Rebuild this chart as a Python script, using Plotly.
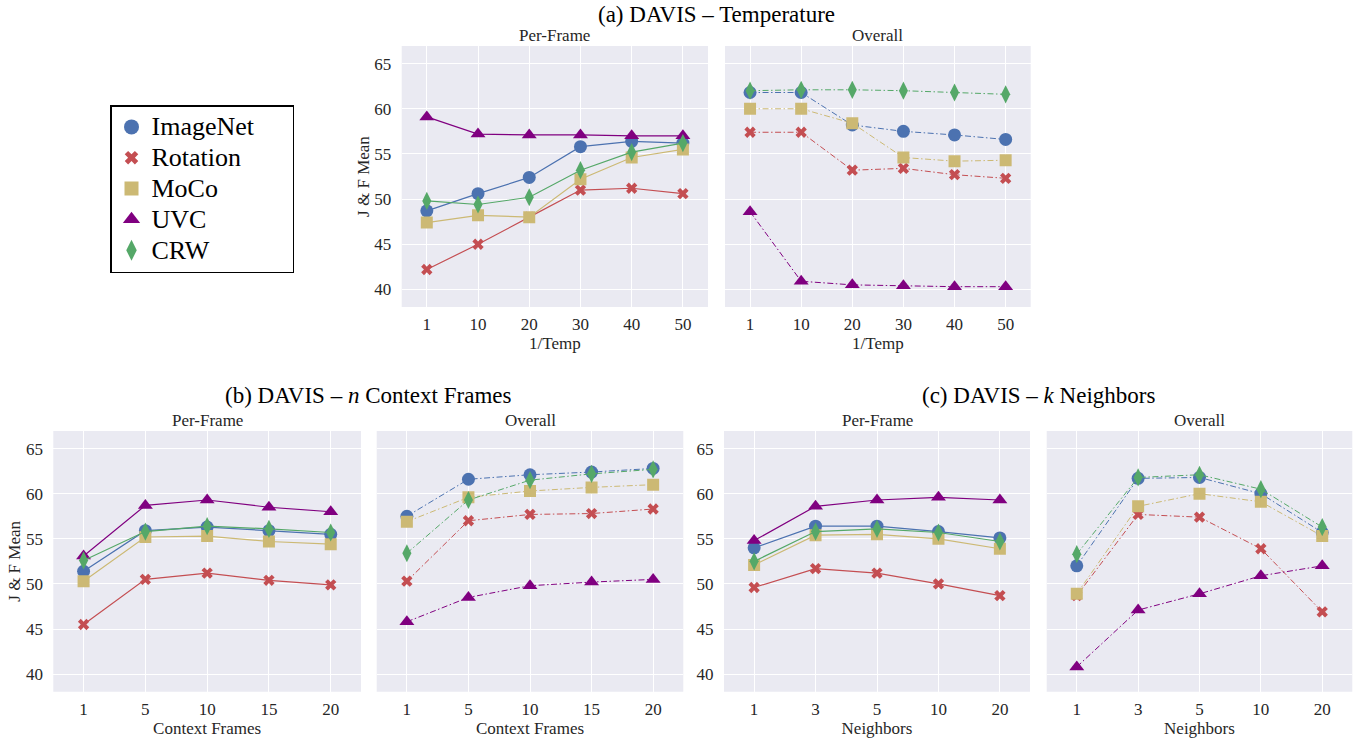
import plotly.graph_objects as go

# ---------------- data ----------------
methods = ["ImageNet", "Rotation", "MoCo", "UVC", "CRW"]

temp_labels = ["1", "10", "20", "30", "40", "50"]
ctx_labels = ["1", "5", "10", "15", "20"]
nbr_labels = ["1", "3", "5", "10", "20"]

temp_perframe = {
    "ImageNet": [48.7, 50.6, 52.4, 55.8, 56.4, 56.2],
    "Rotation": [42.2, 45.0, 48.0, 51.0, 51.2, 50.6],
    "MoCo":     [47.4, 48.2, 48.0, 52.2, 54.6, 55.5],
    "UVC":      [59.1, 57.2, 57.1, 57.1, 57.0, 57.0],
    "CRW":      [49.8, 49.4, 50.2, 53.2, 55.2, 56.2],
}
temp_overall = {
    "ImageNet": [61.8, 61.8, 58.2, 57.5, 57.1, 56.6],
    "Rotation": [57.4, 57.4, 53.2, 53.4, 52.7, 52.3],
    "MoCo":     [60.0, 60.0, 58.4, 54.6, 54.2, 54.3],
    "UVC":      [48.6, 40.9, 40.5, 40.4, 40.3, 40.3],
    "CRW":      [62.0, 62.1, 62.1, 62.0, 61.8, 61.6],
}
ctx_perframe = {
    "ImageNet": [51.4, 55.9, 56.3, 55.9, 55.5],
    "Rotation": [45.5, 50.5, 51.2, 50.4, 49.9],
    "MoCo":     [50.3, 55.2, 55.3, 54.7, 54.4],
    "UVC":      [53.1, 58.7, 59.3, 58.5, 58.0],
    "CRW":      [52.6, 55.8, 56.4, 56.1, 55.7],
}
ctx_overall = {
    "ImageNet": [57.5, 61.6, 62.1, 62.4, 62.8],
    "Rotation": [50.3, 57.0, 57.7, 57.8, 58.3],
    "MoCo":     [56.9, 59.6, 60.3, 60.7, 61.0],
    "UVC":      [45.8, 48.5, 49.8, 50.2, 50.5],
    "CRW":      [53.4, 59.3, 61.5, 62.2, 62.7],
}
nbr_perframe = {
    "ImageNet": [54.0, 56.4, 56.4, 55.8, 55.1],
    "Rotation": [49.6, 51.7, 51.2, 50.0, 48.7],
    "MoCo":     [52.1, 55.4, 55.5, 55.0, 53.9],
    "UVC":      [54.8, 58.6, 59.3, 59.6, 59.3],
    "CRW":      [52.5, 55.8, 56.1, 55.7, 54.7],
}
nbr_overall = {
    "ImageNet": [52.0, 61.7, 61.8, 60.0, 55.7],
    "Rotation": [48.7, 57.7, 57.4, 53.9, 46.9],
    "MoCo":     [48.9, 58.6, 60.0, 59.1, 55.3],
    "UVC":      [40.8, 47.1, 48.9, 50.9, 52.0],
    "CRW":      [53.3, 61.8, 62.1, 60.5, 56.3],
}

# ---------------- styles ----------------
colors = {"ImageNet": "#4C72B0", "Rotation": "#C44E52", "MoCo": "#CCB974",
          "UVC": "#800080", "CRW": "#55A868"}
symbols = {"ImageNet": "circle", "Rotation": "x", "MoCo": "square",
           "UVC": "triangle-up", "CRW": "diamond-tall"}
msizes = {"ImageNet": 13, "Rotation": 10, "MoCo": 12, "UVC": 13, "CRW": 13}

W, H = 1360, 738
FONT = "Liberation Serif, Times New Roman, serif"
BG = "#EAEAF2"
TXT = "#262626"

# panel boxes in px (left, right, top, bottom)
panels = [
    ("a-pf", 401.7, 708.0, 46.0, 307.0, temp_labels, temp_perframe, "solid", "1/Temp", True, True),
    ("a-ov", 725.0, 1030.7, 46.0, 307.0, temp_labels, temp_overall, "dashdot", "1/Temp", False, False),
    ("b-pf", 53.3, 361.0, 431.0, 691.7, ctx_labels, ctx_perframe, "solid", "Context Frames", True, True),
    ("b-ov", 376.7, 683.3, 431.0, 691.7, ctx_labels, ctx_overall, "dashdot", "Context Frames", False, False),
    ("c-pf", 724.0, 1030.0, 431.0, 691.7, nbr_labels, nbr_perframe, "solid", "Neighbors", True, False),
    ("c-ov", 1046.7, 1352.3, 431.0, 691.7, nbr_labels, nbr_overall, "dashdot", "Neighbors", False, False),
]
subtitles = ["Per-Frame", "Overall", "Per-Frame", "Overall", "Per-Frame", "Overall"]

fig = go.Figure()
layout = {}
annotations = []

for i, (name, l, r, t, b, labels, data, dash, xtitle, showy, ytitle) in enumerate(panels):
    idx = i + 1
    xa = "x" if idx == 1 else f"x{idx}"
    ya = "y" if idx == 1 else f"y{idx}"
    xkey = "xaxis" if idx == 1 else f"xaxis{idx}"
    ykey = "yaxis" if idx == 1 else f"yaxis{idx}"
    n = len(labels)
    dashpat = "solid" if dash == "solid" else "6px,2.5px,1.5px,2.5px"
    lw = 1.2 if dash == "solid" else 1.0
    for m in methods:
        fig.add_trace(go.Scatter(
            x=labels, y=data[m], xaxis=xa, yaxis=ya, mode="lines+markers",
            line=dict(color=colors[m], width=lw, dash=dashpat),
            marker=dict(symbol=symbols[m], size=msizes[m], color=colors[m],
                        line=dict(width=0)),
            name=m, showlegend=False))
    layout[xkey] = dict(
        domain=[l / W, r / W], anchor=ya, type="category", automargin=False,
        range=[-0.49, n - 0.51], showgrid=True, gridcolor="white", gridwidth=1.3,
        zeroline=False, showline=False, ticks="outside", ticklen=2,
        tickcolor="rgba(0,0,0,0)",
        tickfont=dict(family=FONT, size=17, color=TXT),
        title=dict(text=xtitle, font=dict(family=FONT, size=17, color=TXT), standoff=0),
    )
    layout[ykey] = dict(
        domain=[1 - b / H, 1 - t / H], anchor=xa, range=[38.05, 66.95],
        automargin=False,
        tickvals=[40, 45, 50, 55, 60, 65], showticklabels=showy,
        showgrid=True, gridcolor="white", gridwidth=1.3, zeroline=False,
        showline=False, ticks="outside", ticklen=6, tickcolor="rgba(0,0,0,0)",
        tickfont=dict(family=FONT, size=17, color=TXT),
        title=dict(text="J & F Mean" if ytitle else "",
                   font=dict(family=FONT, size=17, color=TXT), standoff=0),
    )
    fig.add_shape(type="rect", xref=f"{xa} domain", yref=f"{ya} domain",
                  x0=0, x1=1, y0=0, y1=1, fillcolor=BG, line=dict(width=0),
                  layer="below")
    annotations.append(dict(
        text=subtitles[i], x=(l + r) / 2 / W, y=1 - (t + 1) / H,
        xref="paper", yref="paper", xanchor="center", yanchor="bottom",
        showarrow=False, font=dict(family=FONT, size=17, color=TXT)))

# main titles
annotations += [
    dict(text="(a) DAVIS – Temperature", x=716 / W, y=1 - 15 / H),
    dict(text="(b) DAVIS – <i>n</i> Context Frames", x=368 / W, y=1 - 395 / H),
    dict(text="(c) DAVIS – <i>k</i> Neighbors", x=1038 / W, y=1 - 395 / H),
]
for a in annotations[-3:]:
    a.update(xref="paper", yref="paper", xanchor="center", yanchor="middle",
             showarrow=False, font=dict(family=FONT, size=23, color="black"))

# legend-only entries (markers only)
PAD = "\u00a0" * 5
for m in methods:
    fig.add_trace(go.Scatter(
        x=[None], y=[None], mode="markers",
        name=f'<span style="font-size:26px">{m}{PAD}</span>',
        marker=dict(symbol=symbols[m], size=msizes[m] + 2, color=colors[m],
                    line=dict(width=0)),
        showlegend=True))

fig.update_layout(
    width=W, height=H, margin=dict(l=0, r=0, t=0, b=0),
    paper_bgcolor="white", plot_bgcolor="rgba(0,0,0,0)",
    annotations=annotations,
    showlegend=True,
    legend=dict(x=110 / W, y=1 - 105 / H, xanchor="left", yanchor="top",
                bgcolor="white", bordercolor="black", borderwidth=1.5,
                font=dict(family=FONT, size=21.4, color="black"),
                tracegroupgap=0),
    **layout,
)

fig.write_html("out.html", config={"displayModeBar": False},
               post_script="document.body.style.margin='0';document.body.style.overflow='hidden';")
